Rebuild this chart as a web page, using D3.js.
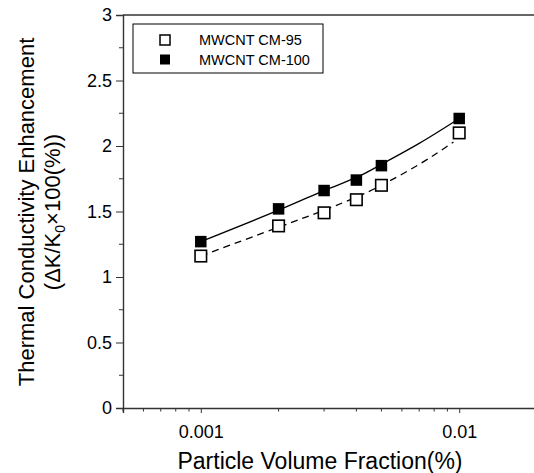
<!DOCTYPE html>
<html>
<head>
<meta charset="utf-8">
<script src="https://cdn.jsdelivr.net/npm/d3@7"></script>
<style>
  body { margin: 0; background: #fff; }
  text { font-family: "Liberation Sans", Arial, sans-serif; }
</style>
</head>
<body>
<div id="chart"></div>
<script>
// measured points
const fractions = [0.001, 0.002, 0.003, 0.004, 0.005, 0.01];
const cm95 = [1.16, 1.39, 1.49, 1.59, 1.70, 2.10];
const cm100 = [1.27, 1.52, 1.66, 1.74, 1.85, 2.21];

// fitted curves
const fitX = [0.001, 0.002, 0.003, 0.004, 0.005, 0.007, 0.0095];
const fit95 = [1.16, 1.38, 1.51, 1.61, 1.70, 1.86, 2.03];
const fitX100 = [0.001, 0.002, 0.003, 0.004, 0.005, 0.007, 0.01];
const fit100 = [1.27, 1.51, 1.66, 1.76, 1.86, 2.02, 2.21];

const yTicks = [0, 0.5, 1, 1.5, 2, 2.5, 3];
const yMinor = [0.25, 0.75, 1.25, 1.75, 2.25, 2.75];
const xTicks = [0.001, 0.01];
const xMinor = [0.0005, 0.0006, 0.0007, 0.0008, 0.0009, 0.002, 0.003, 0.004, 0.005, 0.006, 0.007, 0.008, 0.009, 0.02];
const seriesNames = ["MWCNT CM-95", "MWCNT CM-100"];

const width = 534, height = 473;
const svg = d3.select("#chart").append("svg")
  .attr("width", width).attr("height", height);

const x = d3.scaleLog().domain([0.0005, 0.02]).range([123, 537]);
const y = d3.scaleLinear().domain([0, 3]).range([408, 15]);

const g = svg.append("g");

// top border line
g.append("line").attr("x1", x(0.0005)).attr("x2", x(0.02))
  .attr("y1", y(3)).attr("y2", y(3)).attr("stroke", "#333").attr("stroke-width", 1.4);

const xAxis = g.append("g").attr("transform", `translate(0,${y(0)})`)
  .call(d3.axisBottom(x).tickValues(xTicks).tickFormat(d3.format("")).tickSize(5).tickPadding(12));
xAxis.append("g").selectAll("line").data(xMinor).join("line")
  .attr("x1", d => x(d)).attr("x2", d => x(d)).attr("y1", 0).attr("y2", 3.5)
  .attr("stroke", "#333");

const yAxis = g.append("g").attr("transform", `translate(${x(0.0005)},0)`)
  .call(d3.axisLeft(y).tickValues(yTicks).tickFormat(d3.format("")).tickSize(7).tickPadding(4));
yAxis.append("g").selectAll("line").data(yMinor).join("line")
  .attr("x1", -4).attr("x2", 0).attr("y1", d => y(d)).attr("y2", d => y(d))
  .attr("stroke", "#333");

[xAxis, yAxis].forEach(a => {
  a.select(".domain").attr("stroke", "#333").attr("stroke-width", 1.4);
  a.selectAll(".tick line").attr("stroke", "#333");
  a.selectAll("text").attr("font-size", 18).attr("fill", "#000")
    .attr("font-family", "Liberation Sans, Arial, sans-serif");
});

// fit curves
const line = d3.line().x(d => x(d[0])).y(d => y(d[1])).curve(d3.curveNatural);
g.append("path").datum(fitX.map((v, i) => [v, fit95[i]]))
  .attr("d", line).attr("fill", "none").attr("stroke", "#000")
  .attr("stroke-width", 1.3).attr("stroke-dasharray", "7,5");
g.append("path").datum(fitX100.map((v, i) => [v, fit100[i]]))
  .attr("d", line).attr("fill", "none").attr("stroke", "#000").attr("stroke-width", 1.3);

// markers
const ms = 11.5;
g.selectAll(".m95").data(fractions).join("rect").attr("class", "m95")
  .attr("x", d => x(d) - ms / 2).attr("y", (d, i) => y(cm95[i]) - ms / 2)
  .attr("width", ms).attr("height", ms)
  .attr("fill", "#fff").attr("stroke", "#000").attr("stroke-width", 1.6);
g.selectAll(".m100").data(fractions).join("rect").attr("class", "m100")
  .attr("x", d => x(d) - ms / 2).attr("y", (d, i) => y(cm100[i]) - ms / 2)
  .attr("width", ms).attr("height", ms).attr("fill", "#000");

// legend
const lg = svg.append("g");
lg.append("rect").attr("x", 133).attr("y", 24).attr("width", 190).attr("height", 49)
  .attr("fill", "#fff").attr("stroke", "#000");
seriesNames.forEach((name, i) => {
  const cy = 40 + i * 19.5;
  lg.append("rect").attr("x", 160).attr("y", cy - 5).attr("width", 10).attr("height", 10)
    .attr("fill", i ? "#000" : "#fff").attr("stroke", "#000").attr("stroke-width", i ? 0 : 1.5);
  lg.append("text").attr("x", 199).attr("y", cy + 5).attr("font-size", 14.5).text(name);
});

// axis titles
svg.append("text").attr("x", 320).attr("y", 469).attr("text-anchor", "middle")
  .attr("font-size", 23).text("Particle Volume Fraction(%)");

const yt = svg.append("text").attr("transform", "translate(34,212) rotate(-90)")
  .attr("text-anchor", "middle").attr("font-size", 22);
yt.append("tspan").attr("x", 0).attr("dy", 0).text("Thermal Conductivity Enhancement");
const t2 = yt.append("tspan").attr("x", 0).attr("dy", 26);
t2.append("tspan").text("(\u0394K/K");
t2.append("tspan").attr("font-size", 14).attr("dy", 5).text("0");
t2.append("tspan").attr("dy", -5).text("\u00d7100(%))");
</script>
</body>
</html>
